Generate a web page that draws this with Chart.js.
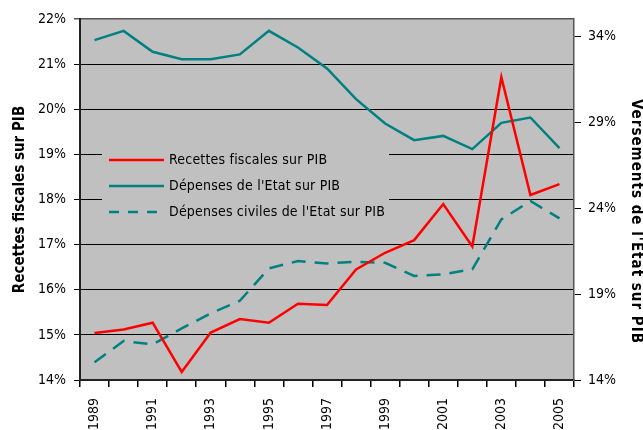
<!DOCTYPE html>
<html><head><meta charset="utf-8">
<script src="https://cdn.jsdelivr.net/npm/chart.js@4.4.0/dist/chart.umd.min.js"></script>
<style>html,body{margin:0;padding:0;background:#fff}#wrap{width:643px;height:430px}</style>
</head><body><div id="wrap"><canvas id="c" width="643" height="430"></canvas></div>
<script>
const years = ['1989','1990','1991','1992','1993','1994','1995','1996','1997','1998','1999','2000','2001','2002','2003','2004','2005'];
const recettes = [15.04,15.12,15.27,14.18,15.05,15.35,15.27,15.69,15.66,16.45,16.82,17.10,17.90,16.96,20.71,18.10,18.34];
const depenses = [33.77,34.31,33.09,32.66,32.66,32.94,34.31,33.34,32.12,30.34,28.92,27.95,28.20,27.43,28.96,29.27,27.49];
const civiles = [15.03,16.27,16.07,17.0,17.88,18.61,20.49,20.92,20.78,20.88,20.82,20.05,20.15,20.44,23.34,24.41,23.40];
const leftTicks = [14,15,16,17,18,19,20,21,22];
const rightTicks = [14,19,24,29,34];
const names = ['Recettes fiscales sur PIB','Dépenses de l\'Etat sur PIB','Dépenses civiles de l\'Etat sur PIB'];
const rightTitle = 'Versements de l\'Etat sur PIB';

const FONT = '"DejaVu Sans Condensed", "DejaVu Sans", sans-serif';
const RED = '#ff0000', TEAL = '#008080';

const legendPlugin = {
  id: 'boxLegend',
  beforeDraw(chart) {
    const s = chart.scales.y2;
    if (s && !s._patched) {
      const orig = s.drawTitle.bind(s);
      s.drawTitle = function() {
        const ctx = this.ctx;
        ctx.save();
        ctx.translate(2, 22);
        ctx.letterSpacing = '1px';
        orig();
        ctx.restore();
      };
      s._patched = true;
    }
  },
  afterDraw(chart) {
    const ctx = chart.ctx;
    ctx.save();
    ctx.fillStyle = '#c0c0c0';
    ctx.fillRect(102, 140, 287, 86);
    const items = [
      {c: RED, dash: [], t: names[0]},
      {c: TEAL, dash: [], t: names[1]},
      {c: TEAL, dash: [10, 9], t: names[2]}
    ];
    items.forEach((it, i) => {
      const y = 160 + i * 26;
      ctx.beginPath();
      ctx.strokeStyle = it.c;
      ctx.lineWidth = 2.5;
      ctx.setLineDash(it.dash);
      ctx.moveTo(109, y); ctx.lineTo(164, y);
      ctx.stroke();
      ctx.setLineDash([]);
      ctx.fillStyle = '#000';
      ctx.font = '14px ' + FONT;
      ctx.letterSpacing = '0.2px';
      ctx.textBaseline = 'middle';
      ctx.fillText(it.t, 169, y);
    });
    ctx.restore();
  }
};

const bgPlugin = {
  id: 'bg',
  beforeDraw(chart) {
    const a = chart.chartArea, ctx = chart.ctx;
    ctx.save();
    ctx.fillStyle = '#fff'; ctx.fillRect(0,0,chart.width,chart.height);
    ctx.fillStyle = '#c0c0c0';
    ctx.fillRect(a.left, a.top, a.right - a.left, a.bottom - a.top);
    ctx.restore();
  }
};

new Chart(document.getElementById('c'), {
  type: 'line',
  data: {
    labels: years,
    datasets: [
      {label: names[0], data: recettes, borderColor: RED, borderWidth: 2.5, pointRadius: 0, yAxisID: 'y', tension: 0},
      {label: names[1], data: depenses, borderColor: TEAL, borderWidth: 2.5, pointRadius: 0, yAxisID: 'y2', tension: 0},
      {label: names[2], data: civiles, borderColor: TEAL, borderWidth: 2.5, borderDash: [14, 9], pointRadius: 0, yAxisID: 'y2', tension: 0}
    ]
  },
  options: {
    responsive: false,
    animation: false,
    layout: {padding: {top: 19, left: 0, right: 0, bottom: 0}},
    plugins: {legend: {display: false}, tooltip: {enabled: false}},
    scales: {
      x: {
        type: 'category',
        offset: true,
        grid: {drawOnChartArea: false, offset: true, tickLength: 7, color: '#000', lineWidth: 1.5},
        border: {color: '#222', width: 2},
        ticks: {
          autoSkip: false, maxRotation: 90, minRotation: 90, padding: 11,
          color: '#000', font: {family: FONT, size: 14},
          callback: function(v, i) { return i % 2 === 0 ? this.getLabelForValue(v) : ''; }
        },
        afterFit(s) { s.height = 50; }
      },
      y: {
        position: 'left', min: 14, max: 22,
        afterBuildTicks(s) { s.ticks = leftTicks.map(v => ({value: v})); },
        grid: {
          color: ctx => ctx.tick && ctx.tick.value === 22 ? '#555' : '#000',
          lineWidth: ctx => ctx.tick && ctx.tick.value === 22 ? 1.5 : 1,
          tickLength: 6
        },
        border: {color: '#222', width: 2},
        ticks: {color: '#000', padding: 8, font: {family: FONT, size: 14}, callback: v => v + '%'},
        title: {display: true, text: names[0], color: '#000', font: {family: FONT, size: 15, weight: 'bold'}, padding: {top: 11, bottom: 0}},
        afterFit(s) { s.width = 80; }
      },
      y2: {
        position: 'right', min: 14, max: 35,
        afterBuildTicks(s) { s.ticks = rightTicks.map(v => ({value: v})); },
        grid: {drawOnChartArea: false, tickLength: 7, color: '#000'},
        border: {color: '#555', width: 1.5},
        ticks: {color: '#000', padding: 7, font: {family: FONT, size: 14}, callback: v => v + '%'},
        title: {display: true, text: rightTitle, color: '#000', font: {family: FONT, size: 15, weight: 'bold'}, padding: {top: 0, bottom: 0}},
        afterFit(s) { s.width = 69; }
      }
    }
  },
  plugins: [bgPlugin, legendPlugin]
});
</script></body></html>
